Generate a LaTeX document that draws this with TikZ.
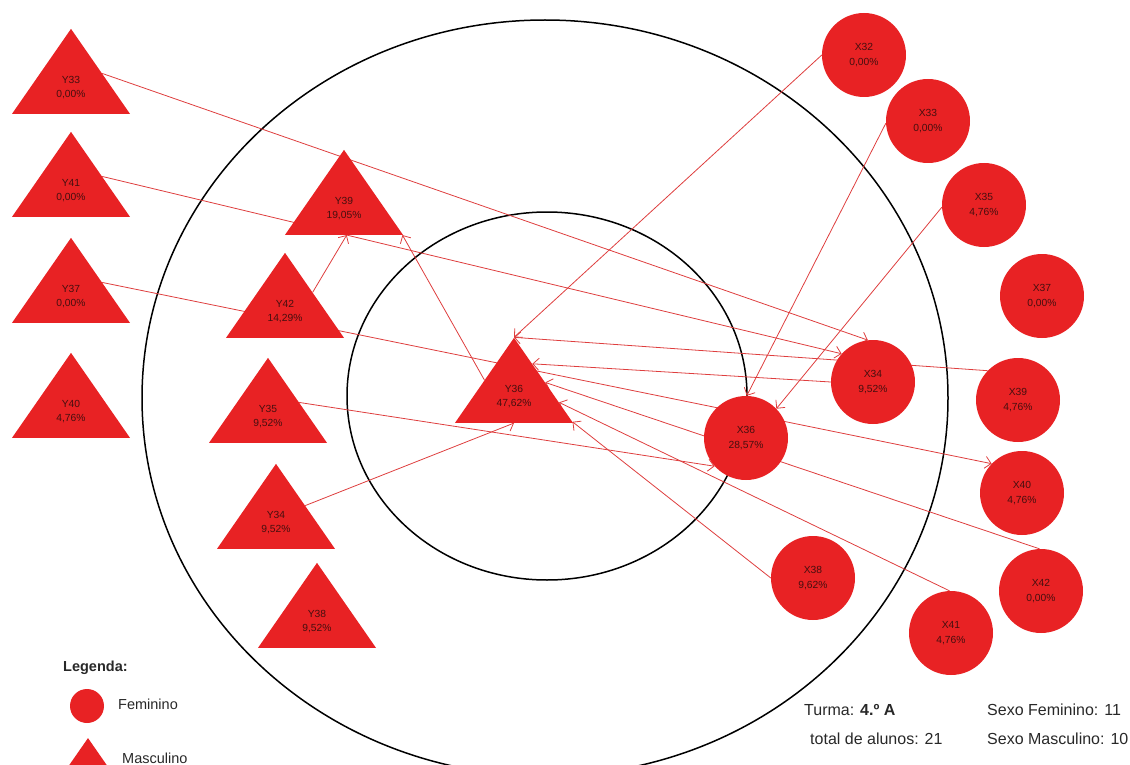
\documentclass[tikz,border=0pt]{standalone}
\usepackage{fontspec}
\setmainfont{Liberation Sans}
\usetikzlibrary{shapes.geometric,arrows.meta,backgrounds}
\definecolor{nodered}{RGB}{232,34,36}
\definecolor{linkred}{RGB}{222,62,62}
\definecolor{lbltext}{RGB}{70,15,15}
\definecolor{legtext}{RGB}{40,40,40}
\newcommand{\lblfont}{\fontsize{10.3}{14.5}\selectfont}
\tikzstyle{fem} = [circle, fill=nodered, minimum size=84pt, inner sep=0pt, align=center, text=lbltext, font=\lblfont]
\tikzstyle{masc} = [isosceles triangle, isosceles triangle stretches, shape border rotate=90, fill=nodered, minimum width=118pt, minimum height=85pt, inner sep=0pt]
\tikzstyle{tlabel} = [align=center, text=lbltext, font=\lblfont, yshift=-4.5pt]
\tikzstyle{ring} = [draw=black, line width=1.5pt]
\tikzstyle{link} = [draw=linkred, line width=0.8pt, -{Straight Barb[length=6pt,width=12pt]}]
\tikzstyle{legtxt} = [anchor=west, text=legtext, font=\fontsize{14.5}{17}\selectfont, inner sep=0pt]
\tikzstyle{info} = [anchor=west, text=legtext, font=\fontsize{16}{19}\selectfont, inner sep=0pt]

\begin{document}
\begin{tikzpicture}[x=1pt, y=-1pt]
\useasboundingbox (0,0) rectangle (1130,765);

% masculino
\node (y33) [masc, label={[tlabel]center:{Y33\\0,00\%}}] at (71,83) {};
\node (y41) [masc, label={[tlabel]center:{Y41\\0,00\%}}] at (71,186) {};
\node (y37) [masc, label={[tlabel]center:{Y37\\0,00\%}}] at (71,292) {};
\node (y40) [masc, label={[tlabel]center:{Y40\\4,76\%}}] at (71,407) {};
\node (y39) [masc, label={[tlabel]center:{Y39\\19,05\%}}] at (344,204) {};
\node (y42) [masc, label={[tlabel]center:{Y42\\14,29\%}}] at (285,307) {};
\node (y35) [masc, label={[tlabel]center:{Y35\\9,52\%}}] at (268,412) {};
\node (y34) [masc, label={[tlabel]center:{Y34\\9,52\%}}] at (276,518) {};
\node (y38) [masc, label={[tlabel]center:{Y38\\9,52\%}}] at (317,617) {};
\node (y36) [masc, label={[tlabel]center:{Y36\\47,62\%}}] at (514,392) {};

% feminino
\node (x32) [fem] at (864,55) {X32\\0,00\%};
\node (x33) [fem] at (928,121) {X33\\0,00\%};
\node (x35) [fem] at (984,205) {X35\\4,76\%};
\node (x37) [fem] at (1042,296) {X37\\0,00\%};
\node (x34) [fem] at (873,382) {X34\\9,52\%};
\node (x39) [fem] at (1018,400) {X39\\4,76\%};
\node (x36) [fem] at (746,438) {X36\\28,57\%};
\node (x40) [fem] at (1022,493) {X40\\4,76\%};
\node (x38) [fem] at (813,578) {X38\\9,62\%};
\node (x42) [fem] at (1041,591) {X42\\0,00\%};
\node (x41) [fem] at (951,633) {X41\\4,76\%};

\begin{scope}[on background layer]
\draw [ring] (545,398) ellipse [x radius=403pt, y radius=378pt];
\draw [ring] (547,396) ellipse [x radius=200pt, y radius=184pt];

\draw [link] (y33.17) -- (x34.97);
\draw [link] (y41.17) -- (x34.138);
\draw [link] (y37.17) -- (x40.136);
\draw [link] (x39.136) -- (y36.apex);
\draw [link] (x32.180) -- (y36.apex);
\draw [link] (x34.180) -- (y36.57);
\draw [link] (x42.92) -- (y36.17);
\draw [link] (x41.92) -- (y36.-13);
\draw [link] (x38.180) -- (y36.-27);
\draw [link] (x33.183) -- (x36.89);
\draw [link] (x35.183) -- (x36.44);
\draw [link] (y35.17) -- (x36.222);
\draw [link] (y34.23) -- (y36.-90);
\draw [link] (y42.28) -- (y39.-85);
\draw [link] (y36.158) -- (y39.-28);
\end{scope}

% legenda
\node (leg) [legtxt, font=\fontsize{14.5}{17}\selectfont\bfseries] at (63,668) {Legenda:};
\node (legf) [fem, minimum size=34pt] at (87,706) {};
\node (legftxt) [legtxt] at (118,704) {Feminino};
\node (legm) [masc, minimum width=50pt, minimum height=36pt] at (88,761) {};
\node (legmtxt) [legtxt] at (122,758) {Masculino};

% dados da turma
\node (turma) [info] at (804,710) {Turma: \textbf{4.º A}};
\node (total) [info] at (810,739) {total de alunos: 21};
\node (sexf) [info] at (987,710) {Sexo Feminino: 11};
\node (sexm) [info] at (987,739) {Sexo Masculino: 10};
\end{tikzpicture}
\end{document}
